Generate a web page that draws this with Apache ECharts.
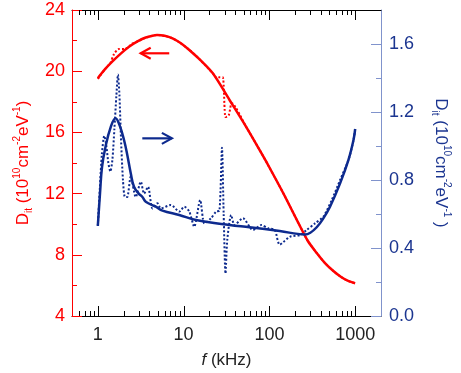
<!DOCTYPE html>
<html>
<head>
<meta charset="utf-8">
<script src="https://cdn.jsdelivr.net/npm/echarts@6/dist/echarts.min.js"></script>
<style>
  html, body { margin: 0; padding: 0; background: #fff; }
  #chart { width: 461px; height: 373px; }
</style>
</head>
<body>
<div id="chart"></div>
<script>
// [f (kHz), Dit]
const redFit = [[1.0,19.54],[1.2,20.1],[1.47,20.62],[1.85,21.15],[2.31,21.6],[2.9,21.95],[3.62,22.2],[4.9,22.37],[6.0,22.32],[7.43,22.15],[9.3,21.83],[11.65,21.39],[15.5,20.75],[21.9,19.86],[34.3,18.12],[53.8,16.35],[80.7,14.65],[92.3,14.07],[144.7,12.04],[227,9.88],[281,8.9],[356,8.12],[445,7.46],[557,6.94],[686,6.55],[828,6.29],[1000,6.14]]
const redData = [[1.0,19.5],[1.2,20.1],[1.4,20.55],[1.54,21.1],[1.76,21.45],[2.02,21.45],[2.31,21.6],[2.5,21.8],[2.8,21.9],[3.46,22.15],[4.9,22.37],[7.43,22.15],[11.65,21.4],[15.5,20.75],[21.9,19.86],[24.5,19.55],[26.2,19.6],[28.6,19.6],[30.8,17.0],[33.5,17.1],[36.5,17.9],[53.8,16.35],[80.7,14.65],[144.7,12.04],[227,9.88],[281,8.9],[356,8.12],[445,7.46],[557,6.94],[686,6.55],[828,6.29],[1000,6.14]]
const blueFit = [[1.0,0.53],[1.06,0.72],[1.12,0.878],[1.23,0.996],[1.41,1.11],[1.61,1.163],[1.8,1.12],[2.02,1.035],[2.2,0.95],[2.42,0.84],[2.64,0.76],[3.0,0.72],[3.31,0.70],[3.62,0.672],[4.74,0.643],[5.67,0.62],[8.9,0.594],[13.96,0.565],[34.3,0.535],[58.8,0.522],[132,0.50],[259,0.48],[300,0.49],[356,0.522],[420,0.57],[509,0.643],[667,0.78],[835,0.918],[956,1.035],[1000,1.10]]
const blueData = [[1.0,0.53],[1.055,0.75],[1.114,0.95],[1.19,1.06],[1.258,1.0],[1.327,0.9],[1.40,0.85],[1.479,0.92],[1.56,1.1],[1.647,1.3],[1.715,1.42],[1.786,1.3],[1.86,1.05],[1.963,0.8],[2.07,0.70],[2.2,0.70],[2.42,0.82],[2.77,0.70],[3.17,0.79],[3.46,0.72],[3.85,0.76],[4.33,0.633],[4.95,0.663],[5.43,0.633],[7.11,0.653],[8.9,0.614],[10.2,0.643],[11.65,0.614],[13.3,0.525],[15.6,0.682],[17.5,0.545],[20.9,0.575],[23.9,0.614],[26.2,0.62],[28.0,0.99],[29.3,0.6],[30.8,0.25],[32.3,0.45],[35.9,0.594],[39.2,0.535],[49.1,0.575],[64.3,0.506],[80.7,0.535],[96.5,0.516],[115.5,0.506],[132,0.42],[173,0.466],[227,0.476],[272,0.506],[340,0.545],[425,0.584],[533,0.682],[667,0.80],[835,0.918],[956,1.035],[1000,1.10]]
// arrows: [from f, to f, level]
const redArrow = [6.8, 3.16, 21.17]
const blueArrow = [3.3, 7.3, 1.045]
const majorTicks = [1, 10, 100, 1000]
const minorTicks = [0.6,0.7,0.8,0.9,2,3,4,5,6,7,8,9,20,30,40,50,60,70,80,90,200,300,400,500,600,700,800,900]
const rightMinor = [0.2, 0.6, 1.0, 1.4]

const RED = '#ff0000'
const BLUE = '#0d2a8e'
const BLUE_TXT = '#1b3590'
const BLUE_AX = '#8093cc'
const FONT = 'Liberation Sans, Arial, Helvetica, sans-serif'

let chart = echarts.init(document.getElementById('chart'))

function tickItem(params, api) {
  let cs = params.coordSys
  let x = Math.round(api.coord([api.value(0), 10])[0]) + 0.5
  let len = api.value(1)
  let bot = cs.y + cs.height, top = cs.y
  return {
    type: 'group',
    children: [
      { type: 'line', shape: { x1: x, y1: bot, x2: x, y2: bot - len }, style: { stroke: '#000', lineWidth: 1 } },
      { type: 'line', shape: { x1: x, y1: top, x2: x, y2: top + len }, style: { stroke: '#000', lineWidth: 1 } },
    ],
  }
}

function rightTickItem(params, api) {
  let cs = params.coordSys
  let y = Math.round(api.coord([1, api.value(1)])[1]) + 0.5
  let x = cs.x + cs.width
  return { type: 'line', shape: { x1: x, y1: y, x2: x - 5, y2: y }, style: { stroke: BLUE_AX, lineWidth: 1 } }
}

function arrowItem(color) {
  return function (params, api) {
    let a = api.coord([api.value(0), api.value(2)])
    let b = api.coord([api.value(1), api.value(2)])
    let dir = b[0] < a[0] ? 1 : -1
    return {
      type: 'group',
      children: [
        { type: 'line', shape: { x1: a[0], y1: a[1], x2: b[0], y2: b[1] }, style: { stroke: color, lineWidth: 2.2 } },
        { type: 'polyline', shape: { points: [[b[0] + dir * 10, b[1] - 5.5], [b[0], b[1]], [b[0] + dir * 10, b[1] + 5.5]] },
          style: { stroke: color, lineWidth: 2.2, fill: null } },
      ],
    }
  }
}

function nameRich(color) {
  return {
    m: { fontSize: 17, color, fontFamily: FONT, lineHeight: 22, verticalAlign: 'middle' },
    sup: { fontSize: 10, color, fontFamily: FONT, lineHeight: 10, verticalAlign: 'top' },
    sub: { fontSize: 10, color, fontFamily: FONT, lineHeight: 10, verticalAlign: 'bottom' },
  }
}

let ticks = majorTicks.map(v => [v, 10]).concat(minorTicks.map(v => [v, 5]))

chart.setOption({
  animation: false,
  grid: { left: 72, right: 80, top: 10, bottom: 57, containLabel: false, outerBoundsMode: 'none' },
  xAxis: [
    {
      type: 'log', logBase: 10, min: 0.5, max: 2000, position: 'bottom',
      axisLine: { lineStyle: { color: '#000', width: 1 } },
      axisTick: { show: false }, splitLine: { show: false },
      axisLabel: {
        color: '#222', fontSize: 18, fontFamily: FONT, margin: 10,
        showMinLabel: false, showMaxLabel: false,
        formatter: v => {
          let e = Math.log10(v)
          return Math.abs(e - Math.round(e)) < 1e-6 ? String(Math.round(v)) : ''
        },
      },
      name: '{i|f}{n| (kHz)}', nameLocation: 'middle', nameGap: 36, nameMoveOverlap: false,
      nameTextStyle: {
        rich: {
          i: { fontSize: 17, fontStyle: 'italic', color: '#222', fontFamily: FONT },
          n: { fontSize: 17, color: '#222', fontFamily: FONT },
        },
      },
    },
    {
      type: 'log', logBase: 10, min: 0.5, max: 2000, position: 'top',
      axisLine: { lineStyle: { color: '#000', width: 1 } },
      axisTick: { show: false }, axisLabel: { show: false }, splitLine: { show: false },
    },
  ],
  yAxis: [
    {
      type: 'value', min: 4, max: 24, interval: 4, position: 'left',
      axisLine: { show: true, lineStyle: { color: RED, width: 1 } },
      axisTick: { show: true, inside: true, length: 10, lineStyle: { color: RED } },
      minorTick: { show: true, splitNumber: 2, length: 5, lineStyle: { color: RED } },
      splitLine: { show: false },
      axisLabel: { color: RED, fontSize: 18, fontFamily: FONT, margin: 7 },
      name: '{m|D}{sub|it}{m| (10}{sup|10}{m|cm}{sup|-2}{m|eV}{sup|-1}{m|)}',
      nameLocation: 'middle', nameGap: 38, nameRotate: 90, nameMoveOverlap: false,
      nameTextStyle: { rich: nameRich(RED) },
    },
    {
      type: 'value', min: 0, max: 1.8, interval: 0.4, position: 'right',
      axisLine: { show: true, lineStyle: { color: BLUE_AX, width: 1 } },
      axisTick: { show: true, inside: true, length: 10, lineStyle: { color: BLUE_AX } },
      minorTick: { show: false },
      splitLine: { show: false },
      axisLabel: { color: BLUE_TXT, fontSize: 18, fontFamily: FONT, margin: 8, showMaxLabel: false, formatter: v => v.toFixed(1) },
      name: '{m|D}{sub|it}{m| (10}{sup|10}{m|cm}{sup|-2}{m|eV}{sup|-1}{m| )}',
      nameLocation: 'middle', nameGap: 49, nameRotate: -90, nameMoveOverlap: false,
      nameTextStyle: { rich: nameRich(BLUE_TXT) },
    },
  ],
  series: [
    {
      type: 'line', yAxisIndex: 0, data: redData, showSymbol: false, smooth: 0.25,
      lineStyle: { color: RED, width: 2, type: 'dotted' }, z: 2,
    },
    {
      type: 'line', yAxisIndex: 0, data: redFit, showSymbol: false, smooth: 0.3,
      lineStyle: { color: RED, width: 2.5 }, z: 3,
    },
    {
      type: 'line', yAxisIndex: 1, data: blueData, showSymbol: false, smooth: 0.25,
      lineStyle: { color: BLUE, width: 2, type: 'dotted' }, z: 2,
    },
    {
      type: 'line', yAxisIndex: 1, data: blueFit, showSymbol: false, smooth: 0.4,
      lineStyle: { color: BLUE, width: 2.5 }, z: 3,
    },
    {
      type: 'custom', yAxisIndex: 0, data: ticks, renderItem: tickItem, clip: false, silent: true,
      encode: { x: 0, y: 1 }, z: 5,
    },
    {
      type: 'custom', yAxisIndex: 1, data: rightMinor.map(v => [1, v]), renderItem: rightTickItem, clip: false, silent: true,
      encode: { x: 0, y: 1 }, z: 5,
    },
    {
      type: 'custom', yAxisIndex: 0, data: [redArrow], renderItem: arrowItem(RED), silent: true,
      encode: { x: [0, 1], y: 2 }, z: 4,
    },
    {
      type: 'custom', yAxisIndex: 1, data: [blueArrow], renderItem: arrowItem(BLUE), silent: true,
      encode: { x: [0, 1], y: 2 }, z: 4,
    },
  ],
})
</script>
</body>
</html>
